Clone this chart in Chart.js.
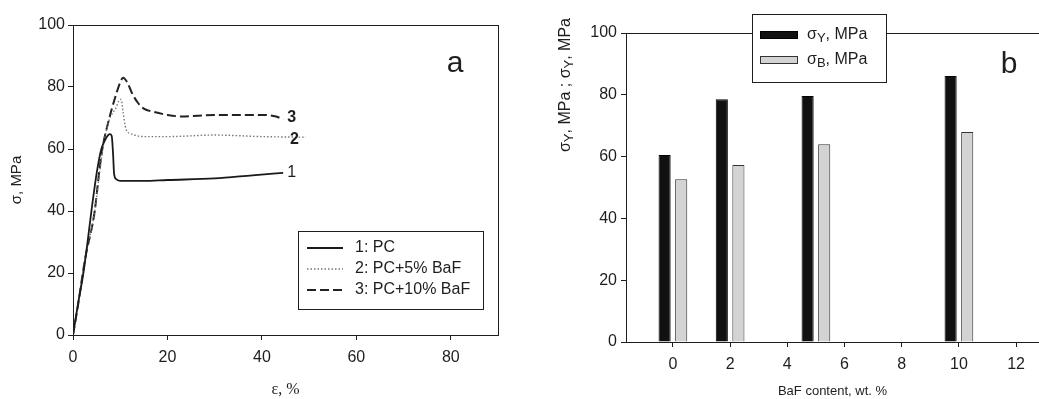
<!DOCTYPE html>
<html>
<head>
<meta charset="utf-8">
<script src="https://cdn.jsdelivr.net/npm/chart.js@4.4.1/dist/chart.umd.min.js"></script>
<style>
  html, body { margin: 0; padding: 0; background: #fff; overflow: hidden; }
  .panel { position: absolute; top: 0; height: 399px; }
  #wrapA { left: 0; width: 520px; }
  #wrapB { left: 520px; width: 519px; }
</style>
</head>
<body>
<div class="panel" id="wrapA"><canvas id="chartA"></canvas></div>
<div class="panel" id="wrapB"><canvas id="chartB"></canvas></div>
<script>
// panel a: stress-strain curves
const strainPC = [0, 1, 2.2, 3, 3.9, 5.1, 6, 7, 7.8, 8.2, 8.5, 8.7, 9.2, 10, 15, 20, 30, 38, 44.5];
const stressPC = [0, 9.5, 20, 29, 40, 53, 60, 63.5, 64.8, 64.2, 58, 52, 50.2, 49.7, 49.7, 50, 50.5, 51.5, 52.3];
const strainPC5 = [0, 1, 2.5, 4.6, 5.6, 6.3, 7.6, 9.2, 9.8, 10.2, 10.6, 11.2, 12.5, 15, 20, 30, 40, 49.3];
const stressPC5 = [0, 9, 24, 40, 52, 60, 69, 73.6, 75.8, 76, 72, 66.5, 64.8, 64, 64, 64.5, 64, 63.8];
const strainPC10 = [0, 1, 2.5, 4.6, 5.5, 6.2, 7.6, 9, 10, 10.6, 11.5, 12.5, 13.7, 15, 17, 20, 23, 30, 40, 43, 44.5];
const stressPC10 = [0, 9, 24, 40, 52, 60, 69.4, 77, 81.5, 83, 81.5, 78, 75, 73, 72, 71, 70.5, 71, 71, 70.5, 69.5];
const seriesNamesA = ['1: PC', '2: PC+5% BaF', '3: PC+10% BaF'];
const curveTags = ['1', '2', '3'];
const tagStrain = [46.3, 46.9, 46.3];
const tagStress = [52.3, 62.9, 70];
const xTicksA = [0, 20, 40, 60, 80];
const yTicksA = [0, 20, 40, 60, 80, 100];

// panel b: yield / break stress vs BaF content
const bafContent = [0, 2, 5, 10];
const sigmaY = [60.5, 78.6, 79.6, 86.1];
const sigmaB = [52.7, 57.3, 64.0, 68.0];
const seriesNamesB = ['σY, MPa', 'σB, MPa'];
const xTicksB = [0, 2, 4, 6, 8, 10, 12];
const yTicksB = [0, 20, 40, 60, 80, 100];

const ink = '#1e1e1e';
const sans = 'Liberation Sans, Arial, sans-serif';

function pts(xs, ys) {
  return xs.map((x, i) => ({ x: x, y: ys[i] }));
}
function fixTicks(list) {
  return function (scale) { scale.ticks = list.map(v => ({ value: v })); };
}

// --- panel a plugins
const frameA = {
  id: 'frameA',
  afterDraw(chart) {
    const { ctx, chartArea: a } = chart;
    ctx.save();
    ctx.strokeStyle = ink;
    ctx.lineWidth = 1;
    ctx.strokeRect(a.left + 0.5, a.top + 0.5, a.right - a.left, a.bottom - a.top);

    // curve numbers
    const xs = chart.scales.x, ys = chart.scales.y;
    ctx.fillStyle = ink;
    ctx.textAlign = 'center';
    ctx.textBaseline = 'middle';
    curveTags.forEach((t, i) => {
      ctx.font = (i === 0 ? '' : 'bold ') + '16px ' + sans;
      ctx.fillText(t, xs.getPixelForValue(tagStrain[i]), ys.getPixelForValue(tagStress[i]));
    });

    // panel letter
    ctx.font = '30px ' + sans;
    ctx.fillText('a', 455, 64);

    // legend box
    const bx = 298, by = 231, bw = 185, bh = 78;
    ctx.fillStyle = '#fff';
    ctx.fillRect(bx, by, bw, bh);
    ctx.strokeRect(bx + 0.5, by + 0.5, bw, bh);
    chart.data.datasets.forEach((ds, i) => {
      const yy = 248 + i * 21;
      ctx.beginPath();
      ctx.setLineDash(ds.borderDash || []);
      ctx.strokeStyle = ds.borderColor;
      ctx.lineWidth = ds.borderWidth;
      ctx.moveTo(307, yy);
      ctx.lineTo(343, yy);
      ctx.stroke();
      ctx.setLineDash([]);
      ctx.fillStyle = ink;
      ctx.font = '16px ' + sans;
      ctx.textAlign = 'left';
      ctx.fillText(ds.label, 355, yy);
    });
    ctx.restore();
  }
};

new Chart(document.getElementById('chartA'), {
  type: 'line',
  data: {
    datasets: [
      { label: seriesNamesA[0], data: pts(strainPC, stressPC), borderColor: '#1a1a1a', borderWidth: 1.8, borderDash: [] },
      { label: seriesNamesA[1], data: pts(strainPC5, stressPC5), borderColor: '#777', borderWidth: 1.4, borderDash: [1.5, 2] },
      { label: seriesNamesA[2], data: pts(strainPC10, stressPC10), borderColor: '#222', borderWidth: 2, borderDash: [9, 4] }
    ]
  },
  options: {
    responsive: true,
    maintainAspectRatio: false,
    animation: false,
    layout: { padding: { left: 0, top: 25, right: 22, bottom: 0 } },
    elements: { point: { radius: 0 }, line: { cubicInterpolationMode: 'monotone', fill: false } },
    plugins: { legend: { display: false }, tooltip: { enabled: false } },
    scales: {
      x: {
        type: 'linear', min: 0, max: 90,
        afterBuildTicks: fixTicks(xTicksA),
        afterFit(s) { s.height = 64; },
        grid: { drawOnChartArea: false, tickLength: 5, color: ink },
        border: { color: ink },
        ticks: { padding: 8, color: ink, maxRotation: 0, font: { family: sans, size: 16 } },
        title: { display: true, text: 'ε, %', color: ink, font: { family: 'Liberation Serif, serif', size: 16 }, padding: { top: 0, bottom: 0 } }
      },
      y: {
        min: 0, max: 100,
        afterBuildTicks: fixTicks(yTicksA),
        afterFit(s) { s.width = 73; },
        grid: { drawOnChartArea: false, tickLength: 5, color: ink },
        border: { color: ink },
        ticks: { padding: 3, color: ink, font: { family: sans, size: 16 } },
        title: { display: true, text: 'σ, MPa', color: ink, font: { family: sans, size: 15 }, padding: { top: 8, bottom: 0 } }
      }
    }
  },
  plugins: [frameA]
});

// --- panel b plugins
function drawSubText(ctx, parts, x, y, size) {
  let cx = x;
  parts.forEach(p => {
    const sub = p[1];
    ctx.font = (sub ? Math.round(size * 0.8) : size) + 'px ' + sans;
    ctx.fillText(p[0], cx, y + (sub ? size * 0.2 : 0));
    cx += ctx.measureText(p[0]).width;
  });
  return cx - x;
}
function measureSubText(ctx, parts, size) {
  let w = 0;
  parts.forEach(p => {
    ctx.font = (p[1] ? Math.round(size * 0.8) : size) + 'px ' + sans;
    w += ctx.measureText(p[0]).width;
  });
  return w;
}
function splitSub(label) {
  // 'σY, MPa' -> sigma, subscript letter, rest
  return [[label[0], false], [label[1], true], [label.slice(2), false]];
}

const frameB = {
  id: 'frameB',
  afterDraw(chart) {
    const { ctx, chartArea: a } = chart;
    ctx.save();
    ctx.strokeStyle = ink;
    ctx.lineWidth = 1;
    ctx.beginPath();
    ctx.moveTo(a.left, a.top + 0.5);
    ctx.lineTo(a.right, a.top + 0.5);
    ctx.stroke();

    ctx.fillStyle = ink;
    ctx.textBaseline = 'middle';
    ctx.textAlign = 'center';
    ctx.font = '30px ' + sans;
    ctx.fillText('b', 489, 65);

    // rotated axis title
    ctx.textAlign = 'left';
    const titleParts = [['σ', false], ['Y', true], [', MPa ; σ', false], ['Y', true], [', MPa', false]];
    const tw = measureSubText(ctx, titleParts, 16);
    ctx.save();
    ctx.translate(46, 85);
    ctx.rotate(-Math.PI / 2);
    drawSubText(ctx, titleParts, -tw / 2, 0, 16);
    ctx.restore();

    // legend box
    const bx = 232, by = 14, bw = 134, bh = 68;
    ctx.fillStyle = '#fff';
    ctx.fillRect(bx, by, bw, bh);
    ctx.strokeRect(bx + 0.5, by + 0.5, bw, bh);
    chart.data.datasets.forEach((ds, i) => {
      const yy = 35 + i * 25;
      ctx.fillStyle = ds.backgroundColor;
      ctx.fillRect(240, yy - 4, 38, 8);
      ctx.strokeStyle = ds.borderColor;
      ctx.strokeRect(240.5, yy - 3.5, 37, 7);
      ctx.fillStyle = ink;
      drawSubText(ctx, splitSub(ds.label), 287, yy, 16);
    });
    ctx.restore();
  }
};

new Chart(document.getElementById('chartB'), {
  type: 'bar',
  data: {
    datasets: [
      { label: seriesNamesB[0], data: pts(bafContent, sigmaY), backgroundColor: '#111', borderColor: '#000', borderWidth: 1 },
      { label: seriesNamesB[1], data: pts(bafContent, sigmaB), backgroundColor: '#d3d3d3', borderColor: '#333', borderWidth: 1 }
    ]
  },
  options: {
    responsive: true,
    maintainAspectRatio: false,
    animation: false,
    categoryPercentage: 0.58,
    barPercentage: 0.73,
    layout: { padding: { left: 0, top: 33, right: 0, bottom: 0 } },
    plugins: { legend: { display: false }, tooltip: { enabled: false } },
    scales: {
      x: {
        type: 'linear', min: -1.64, max: 12.8, offset: false,
        afterBuildTicks: fixTicks(xTicksB),
        afterFit(s) { s.height = 57; },
        grid: { drawOnChartArea: false, offset: false, tickLength: 5, color: ink },
        border: { color: ink },
        ticks: { padding: 8, color: ink, maxRotation: 0, font: { family: sans, size: 16 } },
        title: { display: true, text: 'BaF content, wt. %', color: ink, font: { family: sans, size: 13 }, padding: { top: 0, bottom: 0 } }
      },
      y: {
        min: 0, max: 100,
        afterBuildTicks: fixTicks(yTicksB),
        afterFit(s) { s.width = 106; },
        grid: { drawOnChartArea: false, tickLength: 5, color: ink },
        border: { color: ink },
        ticks: { padding: 4, color: ink, font: { family: sans, size: 16 } }
      }
    }
  },
  plugins: [frameB]
});
</script>
</body>
</html>
